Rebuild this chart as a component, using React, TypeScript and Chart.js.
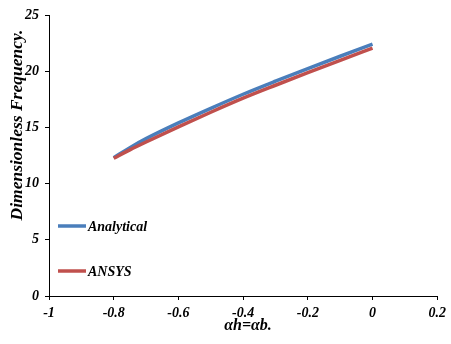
import React, { useEffect, useRef } from "react";
import { Chart, registerables } from "chart.js";

Chart.register(...registerables);

const xValues = [-0.8, -0.75, -0.7, -0.6, -0.5, -0.4, -0.3, -0.2, -0.1, 0];
const analytical = [12.3, 13.2, 14.0, 15.4, 16.7, 17.95, 19.11, 20.23, 21.33, 22.4];
const ansys = [12.25, 13.0, 13.7, 15.05, 16.35, 17.6, 18.75, 19.87, 20.97, 22.05];
const seriesNames = ["Analytical", "ANSYS"];
const seriesColors = ["#4a7ebb", "#c0504d"];
const xTitle = "αh=αb.";
const yTitle = "Dimensionless Frequency.";

const FONT = "'Liberation Serif', 'Times New Roman', serif";

const decorPlugin = {
  id: "decor",
  afterDraw(chart: any) {
    const ctx = chart.ctx;
    const area = chart.chartArea;
    ctx.save();
    const legendY = [226, 271];
    chart.data.datasets.forEach((ds: any, i: number) => {
      const y = legendY[i];
      ctx.strokeStyle = ds.borderColor;
      ctx.lineWidth = 3.5;
      ctx.beginPath();
      ctx.moveTo(area.left + 9, y);
      ctx.lineTo(area.left + 37, y);
      ctx.stroke();
      ctx.fillStyle = "#000";
      ctx.font = `italic bold 14px ${FONT}`;
      ctx.textBaseline = "middle";
      ctx.textAlign = "left";
      ctx.fillText(ds.label, area.left + 39, y + 1);
    });
    ctx.fillStyle = "#000";
    ctx.font = `italic bold 16px ${FONT}`;
    ctx.textAlign = "center";
    ctx.textBaseline = "middle";
    ctx.fillText(xTitle, 248, 326);
    ctx.translate(17, 125);
    ctx.rotate(-Math.PI / 2);
    ctx.font = `italic bold 17.5px ${FONT}`;
    ctx.fillText(yTitle, 0, 0);
    ctx.restore();
  },
};

export default function App() {
  const ref = useRef<HTMLCanvasElement>(null);
  useEffect(() => {
    if (!ref.current) return;
    const tickFont = { family: FONT, size: 14, weight: "bold" as const, style: "italic" as const };
    const chart = new Chart(ref.current, {
      type: "line",
      data: {
        datasets: [
          {
            label: seriesNames[0],
            data: xValues.map((x, i) => ({ x, y: analytical[i] })),
            borderColor: seriesColors[0],
            backgroundColor: seriesColors[0],
            borderWidth: 3.5,
            pointRadius: 0,
            cubicInterpolationMode: "monotone",
            order: 2,
          },
          {
            label: seriesNames[1],
            data: xValues.map((x, i) => ({ x, y: ansys[i] })),
            borderColor: seriesColors[1],
            backgroundColor: seriesColors[1],
            borderWidth: 3.5,
            pointRadius: 0,
            cubicInterpolationMode: "monotone",
            order: 1,
          },
        ],
      },
      options: {
        animation: false,
        responsive: false,
        layout: { padding: { top: 15, right: 10, left: 0, bottom: 0 } },
        plugins: { legend: { display: false }, tooltip: { enabled: false } },
        scales: {
          x: {
            type: "linear",
            min: -1,
            max: 0.2,
            ticks: {
              stepSize: 0.2,
              color: "#000",
              font: tickFont,
              padding: 5,
              maxRotation: 0,
              autoSkip: false,
              callback: (v: any) => String(Math.round(Number(v) * 10) / 10),
            },
            grid: { display: true, drawOnChartArea: false, drawTicks: true, tickLength: 4, color: "#000" },
            border: { color: "#000", width: 1 },
            afterFit: (s: any) => { s.height = 48; },
          },
          y: {
            min: 0,
            max: 25,
            ticks: { stepSize: 5, color: "#000", font: tickFont, padding: 6 },
            grid: { display: true, drawOnChartArea: false, drawTicks: true, tickLength: 4, color: "#000" },
            border: { color: "#000", width: 1 },
            afterFit: (s: any) => { s.width = 49; },
          },
        },
      },
      plugins: [decorPlugin],
    });
    return () => chart.destroy();
  }, []);
  return (
    <div style={{ position: "fixed", left: 0, top: 0, width: 451, height: 344, background: "#fff" }}>
      <canvas ref={ref} width={451} height={344} />
    </div>
  );
}
